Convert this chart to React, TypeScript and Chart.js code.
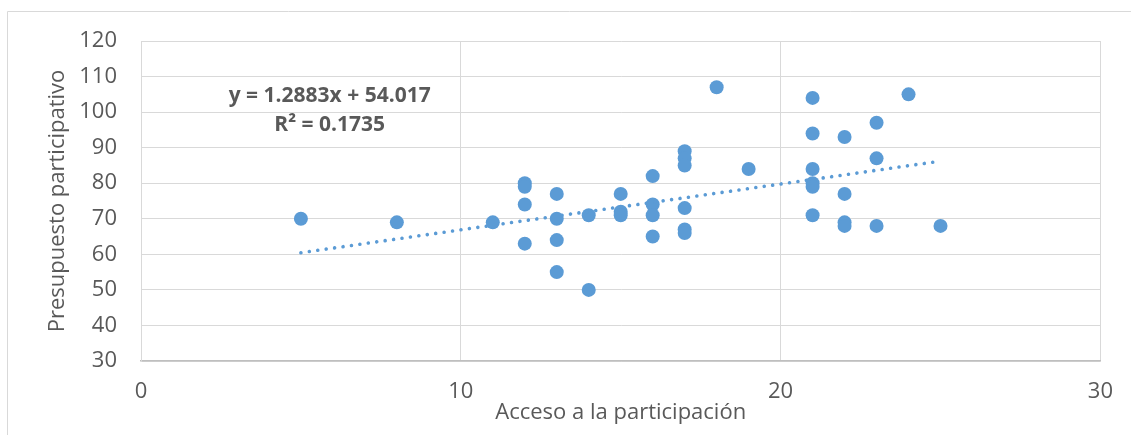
import React, { useEffect, useRef } from "react";
import { Chart, registerables } from "chart.js";

Chart.register(...registerables);

// ---- data ----
const xValues = [
  5, 8, 11,
  12, 12, 12, 12,
  13, 13, 13, 13,
  14, 14,
  15, 15, 15,
  16, 16, 16, 16,
  17, 17, 17, 17, 17, 17,
  18, 19,
  21, 21, 21, 21, 21, 21,
  22, 22, 22, 22,
  23, 23, 23,
  24, 25,
];
const yValues = [
  70, 69, 69,
  80, 79, 74, 63,
  77, 70, 64, 55,
  71, 50,
  77, 72, 71,
  82, 74, 71, 65,
  89, 87, 85, 73, 67, 66,
  107, 84,
  104, 94, 84, 80, 79, 71,
  93, 77, 69, 68,
  97, 87, 68,
  105, 68,
];
const trendSlope = 1.2883;
const trendIntercept = 54.017;
const trendXRange = [5, 25];
const xTicks = [0, 10, 20, 30];
const yTicks = [30, 40, 50, 60, 70, 80, 90, 100, 110, 120];
const xTitle = "Acceso a la participación";
const yTitle = "Presupuesto participativo";
const equationLines = ["y = 1.2883x + 54.017", "R² = 0.1735"];
const equationAnchor = { x: 5.9, y: [104.5, 96.3] };

const BLUE = "#5B9BD5";
const GRID = "#D9D9D9";
const AXIS = "#BFBFBF";
const TEXT = "#595959";
const FONT = '"Open Sans", "Liberation Sans", sans-serif';

export default function App() {
  const ref = useRef<HTMLCanvasElement | null>(null);

  useEffect(() => {
    document.body.style.margin = "0";
    const canvas = ref.current;
    if (!canvas) return;

    const points = xValues.map((x, i) => ({ x, y: yValues[i] }));
    const trend = trendXRange.map((x) => ({ x, y: trendSlope * x + trendIntercept }));

    const decor = {
      id: "decor",
      beforeDraw(chart: any) {
        const ctx = chart.ctx;
        ctx.save();
        ctx.strokeStyle = GRID;
        ctx.lineWidth = 1;
        ctx.beginPath();
        ctx.moveTo(7.5, 500);
        ctx.lineTo(7.5, 11.5);
        ctx.lineTo(1200, 11.5);
        ctx.stroke();
        ctx.restore();
      },
      afterDatasetsDraw(chart: any) {
        const ctx = chart.ctx;
        const xs = chart.scales.x;
        const ys = chart.scales.y;
        ctx.save();
        ctx.font = `bold 21px ${FONT}`;
        ctx.fillStyle = TEXT;
        ctx.textAlign = "center";
        ctx.textBaseline = "middle";
        equationLines.forEach((line, i) => {
          ctx.fillText(line, xs.getPixelForValue(equationAnchor.x), ys.getPixelForValue(equationAnchor.y[i]));
        });
        ctx.restore();
      },
    };

    const chart = new Chart(canvas, {
      type: "scatter",
      data: {
        datasets: [
          {
            label: "Trend",
            type: "line",
            data: trend,
            borderColor: BLUE,
            borderWidth: 3.6,
            borderDash: [0.01, 8.5],
            borderCapStyle: "round",
            pointRadius: 0,
            fill: false,
            order: 0,
          } as any,
          {
            label: "Data",
            data: points,
            backgroundColor: BLUE,
            borderColor: BLUE,
            pointRadius: 7,
            pointBorderWidth: 0,
            order: 1,
          },
        ],
      },
      options: {
        animation: false,
        responsive: false,
        maintainAspectRatio: false,
        layout: { padding: { top: 41, right: 29, left: 0, bottom: 0 } },
        plugins: {
          legend: { display: false },
          tooltip: { enabled: false },
        },
        scales: {
          x: {
            type: "linear",
            min: xTicks[0],
            max: xTicks[xTicks.length - 1],
            afterBuildTicks: (s: any) => {
              s.ticks = xTicks.map((v) => ({ value: v }));
            },
            afterFit: (s: any) => {
              s.height = 74;
            },
            grid: { color: GRID, lineWidth: 1, drawTicks: false },
            border: { color: AXIS, width: 1.5 },
            ticks: {
              color: TEXT,
              font: { family: FONT, size: 22 },
              padding: 18,
              maxRotation: 0,
            },
            title: {
              display: true,
              text: xTitle,
              color: TEXT,
              font: { family: FONT, size: 22 },
              padding: { top: 0, bottom: 9 },
            },
          },
          y: {
            type: "linear",
            min: yTicks[0],
            max: yTicks[yTicks.length - 1],
            afterBuildTicks: (s: any) => {
              s.ticks = yTicks.map((v) => ({ value: v }));
            },
            afterFit: (s: any) => {
              s.width = 141;
            },
            grid: { color: GRID, lineWidth: 1, drawTicks: false },
            border: { color: GRID, width: 1 },
            ticks: {
              color: TEXT,
              font: { family: FONT, size: 22 },
              padding: 24,
            },
            title: {
              display: true,
              text: yTitle,
              color: TEXT,
              font: { family: FONT, size: 22 },
              padding: { top: 45, bottom: 0 },
            },
          },
        },
      },
      plugins: [decor],
    });

    return () => chart.destroy();
  }, []);

  return (
    <div style={{ width: 1131, height: 435, position: "relative", overflow: "hidden" }}>
      <canvas ref={ref} width={1131} height={435} style={{ display: "block", width: 1131, height: 435 }} />
    </div>
  );
}
